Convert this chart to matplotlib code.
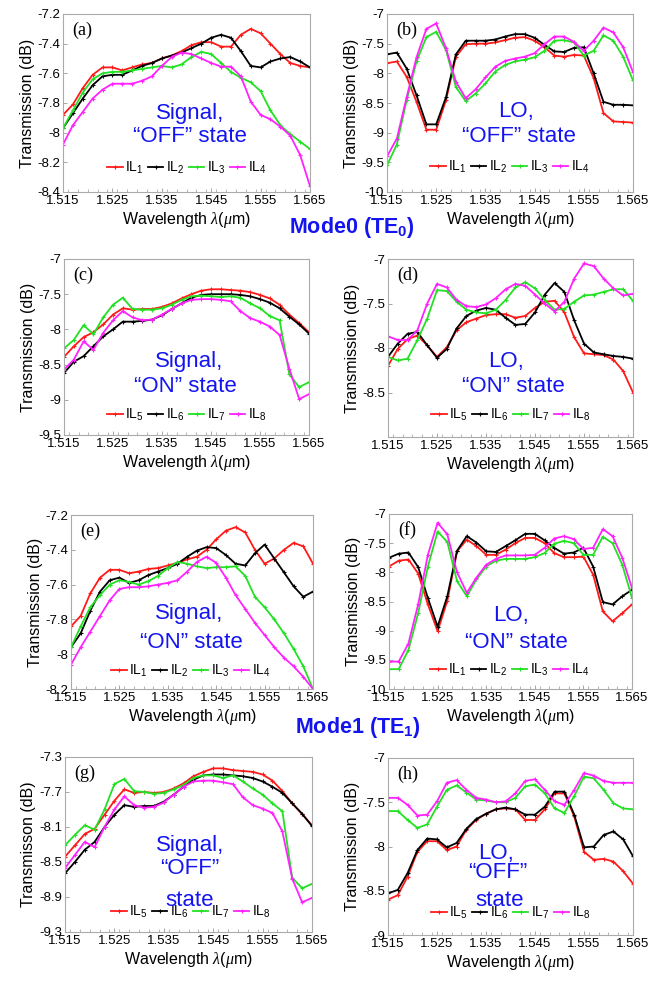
import matplotlib
matplotlib.use("Agg")
import matplotlib.pyplot as plt
from matplotlib.ticker import FixedLocator, FuncFormatter, MultipleLocator

plt.rcParams['font.family'] = ['Liberation Sans', 'DejaVu Sans']
plt.rcParams['mathtext.fontset'] = 'custom'
plt.rcParams['mathtext.rm'] = 'Liberation Sans'
plt.rcParams['mathtext.it'] = 'Liberation Serif:italic'
plt.rcParams['mathtext.bf'] = 'Liberation Sans:bold'

# ---------------- data ----------------
wavelength = [1.515, 1.517, 1.519, 1.521, 1.523, 1.525, 1.527, 1.529, 1.531, 1.533,
              1.535, 1.537, 1.539, 1.541, 1.543, 1.545, 1.547, 1.549, 1.551, 1.553,
              1.555, 1.557, 1.559, 1.561, 1.563, 1.565]

# (a) Mode0, Signal, OFF
a_IL1 = [-7.88, -7.81, -7.70, -7.61, -7.56, -7.56, -7.58, -7.56, -7.54, -7.53, -7.50, -7.48, -7.45,
         -7.41, -7.39, -7.39, -7.42, -7.42, -7.34, -7.30, -7.33, -7.40, -7.47, -7.53, -7.55, -7.56]
a_IL2 = [-7.97, -7.87, -7.77, -7.68, -7.62, -7.61, -7.61, -7.58, -7.55, -7.53, -7.50, -7.48, -7.46,
         -7.43, -7.40, -7.36, -7.34, -7.36, -7.45, -7.55, -7.56, -7.52, -7.50, -7.49, -7.52, -7.56]
a_IL3 = [-7.97, -7.85, -7.73, -7.64, -7.60, -7.59, -7.59, -7.58, -7.57, -7.56, -7.55, -7.56, -7.54,
         -7.49, -7.455, -7.47, -7.53, -7.59, -7.63, -7.66, -7.72, -7.85, -7.95, -8.01, -8.06, -8.11]
a_IL4 = [-8.08, -7.95, -7.86, -7.77, -7.71, -7.67, -7.67, -7.67, -7.65, -7.62, -7.55, -7.49, -7.46,
         -7.47, -7.50, -7.53, -7.555, -7.555, -7.62, -7.79, -7.88, -7.91, -7.96, -8.02, -8.15, -8.36]

# (b) Mode0, LO, OFF
b_IL1 = [-7.83, -7.80, -8.06, -8.48, -8.95, -8.95, -8.45, -7.72, -7.51, -7.50, -7.50, -7.48, -7.44,
         -7.40, -7.39, -7.45, -7.56, -7.70, -7.72, -7.69, -7.70, -8.08, -8.67, -8.81, -8.82, -8.83]
b_IL2 = [-7.68, -7.65, -7.92, -8.37, -8.86, -8.86, -8.40, -7.68, -7.45, -7.45, -7.45, -7.43, -7.38,
         -7.34, -7.34, -7.40, -7.52, -7.63, -7.64, -7.57, -7.56, -8.00, -8.48, -8.53, -8.53, -8.54]
b_IL3 = [-9.55, -9.20, -8.45, -7.80, -7.39, -7.30, -7.61, -8.23, -8.47, -8.34, -8.17, -7.97, -7.86,
         -7.80, -7.77, -7.73, -7.62, -7.45, -7.44, -7.48, -7.70, -7.62, -7.36, -7.45, -7.72, -8.12]
b_IL4 = [-9.40, -9.10, -8.40, -7.73, -7.25, -7.16, -7.58, -8.14, -8.42, -8.27, -8.07, -7.89, -7.79,
         -7.75, -7.72, -7.66, -7.51, -7.38, -7.38, -7.47, -7.62, -7.45, -7.23, -7.31, -7.56, -7.98]

# (c) Mode0, Signal, ON
c_IL5 = [-8.39, -8.24, -8.11, -8.04, -7.93, -7.79, -7.70, -7.72, -7.71, -7.71, -7.68, -7.63, -7.56,
         -7.50, -7.45, -7.43, -7.43, -7.44, -7.45, -7.47, -7.51, -7.56, -7.65, -7.79, -7.91, -8.04]
c_IL6 = [-8.62, -8.46, -8.38, -8.24, -8.10, -8.00, -7.89, -7.89, -7.88, -7.86, -7.80, -7.71, -7.63,
         -7.55, -7.51, -7.50, -7.50, -7.50, -7.51, -7.53, -7.57, -7.62, -7.70, -7.82, -7.93, -8.06]
c_IL7 = [-8.27, -8.15, -7.94, -8.07, -7.83, -7.65, -7.55, -7.71, -7.72, -7.72, -7.70, -7.65, -7.58,
         -7.53, -7.52, -7.53, -7.54, -7.53, -7.55, -7.63, -7.70, -7.81, -7.87, -8.64, -8.82, -8.75]
c_IL8 = [-8.57, -8.43, -8.17, -8.29, -8.05, -7.87, -7.74, -7.83, -7.87, -7.86, -7.79, -7.71, -7.63,
         -7.58, -7.57, -7.57, -7.58, -7.60, -7.74, -7.84, -7.89, -7.96, -8.08, -8.56, -8.99, -8.92]

# (d) Mode0, LO, ON
d_IL5 = [-8.20, -8.01, -7.90, -7.86, -7.97, -8.10, -7.99, -7.80, -7.71, -7.67, -7.63, -7.62, -7.62,
         -7.66, -7.64, -7.55, -7.48, -7.47, -7.60, -7.88, -8.06, -8.07, -8.08, -8.13, -8.26, -8.50]
d_IL6 = [-8.10, -7.95, -7.84, -7.82, -7.97, -8.11, -8.01, -7.78, -7.64, -7.58, -7.55, -7.57, -7.66,
         -7.74, -7.73, -7.60, -7.40, -7.27, -7.37, -7.69, -7.95, -8.05, -8.07, -8.09, -8.10, -8.12]
d_IL7 = [-8.10, -8.14, -8.12, -7.91, -7.67, -7.35, -7.36, -7.48, -7.57, -7.60, -7.61, -7.57, -7.46,
         -7.32, -7.26, -7.33, -7.46, -7.57, -7.56, -7.48, -7.41, -7.40, -7.37, -7.34, -7.34, -7.47]
d_IL8 = [-7.87, -7.91, -7.91, -7.80, -7.50, -7.28, -7.32, -7.46, -7.53, -7.54, -7.51, -7.44, -7.34,
         -7.28, -7.30, -7.40, -7.50, -7.59, -7.48, -7.22, -7.05, -7.08, -7.22, -7.33, -7.41, -7.39]

# (e) Mode1, Signal, ON
e_IL1 = [-7.84, -7.78, -7.65, -7.56, -7.515, -7.515, -7.535, -7.525, -7.51, -7.505, -7.49, -7.475, -7.455,
         -7.44, -7.40, -7.34, -7.29, -7.27, -7.30, -7.40, -7.48, -7.45, -7.40, -7.36, -7.38, -7.48]
e_IL2 = [-7.96, -7.88, -7.75, -7.64, -7.575, -7.56, -7.59, -7.575, -7.545, -7.525, -7.505, -7.48, -7.44,
         -7.405, -7.385, -7.39, -7.43, -7.48, -7.49, -7.42, -7.37, -7.45, -7.53, -7.61, -7.67, -7.64]
e_IL3 = [-7.96, -7.84, -7.73, -7.66, -7.60, -7.575, -7.585, -7.60, -7.58, -7.55, -7.505, -7.47, -7.48,
         -7.495, -7.505, -7.50, -7.50, -7.495, -7.55, -7.67, -7.73, -7.80, -7.88, -7.97, -8.07, -8.20]
e_IL4 = [-8.06, -7.96, -7.87, -7.78, -7.69, -7.625, -7.615, -7.615, -7.61, -7.60, -7.59, -7.575, -7.525,
         -7.47, -7.44, -7.475, -7.56, -7.66, -7.74, -7.82, -7.89, -7.96, -8.02, -8.07, -8.13, -8.20]

# (f) Mode1, LO, ON
f_IL1 = [-7.90, -7.80, -7.78, -8.02, -8.55, -9.01, -8.49, -7.64, -7.44, -7.55, -7.70, -7.70, -7.61,
         -7.50, -7.41, -7.41, -7.50, -7.67, -7.74, -7.74, -7.73, -8.04, -8.67, -8.84, -8.70, -8.55]
f_IL2 = [-7.75, -7.68, -7.66, -7.91, -8.44, -8.93, -8.41, -7.63, -7.38, -7.49, -7.64, -7.65, -7.55,
         -7.45, -7.34, -7.34, -7.45, -7.58, -7.68, -7.66, -7.58, -7.90, -8.51, -8.55, -8.41, -8.30]
f_IL3 = [-9.66, -9.66, -9.33, -8.70, -7.90, -7.30, -7.48, -8.15, -8.41, -8.12, -7.90, -7.80, -7.77,
         -7.77, -7.77, -7.74, -7.67, -7.51, -7.46, -7.50, -7.70, -7.70, -7.39, -7.50, -7.87, -8.44]
f_IL4 = [-9.53, -9.53, -9.22, -8.55, -7.70, -7.15, -7.35, -8.00, -8.35, -8.09, -7.87, -7.77, -7.71,
         -7.71, -7.71, -7.70, -7.58, -7.42, -7.38, -7.43, -7.60, -7.58, -7.26, -7.38, -7.75, -8.27]

# (g) Mode1, Signal, OFF
g_IL5 = [-8.44, -8.31, -8.18, -8.12, -7.96, -7.80, -7.67, -7.71, -7.70, -7.71, -7.70, -7.66, -7.60,
         -7.52, -7.47, -7.43, -7.43, -7.45, -7.46, -7.47, -7.50, -7.57, -7.69, -7.83, -7.95, -8.08]
g_IL6 = [-8.63, -8.50, -8.36, -8.27, -8.10, -7.96, -7.85, -7.87, -7.86, -7.86, -7.81, -7.73, -7.64,
         -7.56, -7.51, -7.50, -7.50, -7.51, -7.52, -7.54, -7.58, -7.64, -7.71, -7.83, -7.95, -8.09]
g_IL7 = [-8.31, -8.19, -8.08, -8.13, -7.90, -7.61, -7.55, -7.69, -7.70, -7.72, -7.71, -7.67, -7.62,
         -7.54, -7.51, -7.51, -7.54, -7.51, -7.58, -7.66, -7.73, -7.83, -7.92, -8.68, -8.80, -8.75]
g_IL8 = [-8.57, -8.42, -8.27, -8.33, -8.10, -7.90, -7.75, -7.85, -7.88, -7.87, -7.82, -7.73, -7.64,
         -7.58, -7.57, -7.57, -7.59, -7.61, -7.76, -7.85, -7.89, -7.94, -8.15, -8.69, -8.96, -8.91]

# (h) Mode1, LO, OFF
h_IL5 = [-8.60, -8.55, -8.34, -8.06, -7.94, -7.94, -8.04, -8.00, -7.81, -7.70, -7.63, -7.58, -7.57,
         -7.58, -7.70, -7.70, -7.58, -7.40, -7.40, -7.66, -8.06, -8.15, -8.14, -8.17, -8.28, -8.42]
h_IL6 = [-8.53, -8.49, -8.30, -8.04, -7.91, -7.92, -8.01, -7.96, -7.80, -7.69, -7.63, -7.58, -7.56,
         -7.58, -7.64, -7.64, -7.55, -7.38, -7.38, -7.64, -8.01, -8.00, -7.87, -7.83, -7.92, -8.11]
h_IL7 = [-7.60, -7.60, -7.70, -7.79, -7.75, -7.55, -7.36, -7.31, -7.39, -7.47, -7.48, -7.50, -7.50,
         -7.45, -7.32, -7.30, -7.40, -7.57, -7.62, -7.43, -7.21, -7.23, -7.36, -7.51, -7.57, -7.58]
h_IL8 = [-7.45, -7.45, -7.53, -7.65, -7.64, -7.49, -7.28, -7.25, -7.36, -7.45, -7.47, -7.50, -7.49,
         -7.40, -7.26, -7.24, -7.36, -7.49, -7.53, -7.36, -7.17, -7.20, -7.26, -7.28, -7.28, -7.28]

x_ticks = [1.515, 1.525, 1.535, 1.545, 1.555, 1.565]
labels_1to4 = ['IL$_1$', 'IL$_2$', 'IL$_3$', 'IL$_4$']
labels_5to8 = ['IL$_5$', 'IL$_6$', 'IL$_7$', 'IL$_8$']

# ---------------- layout ----------------
W, H = 652, 982
fig = plt.figure(figsize=(W / 100, H / 100), dpi=100)
colors = ['#ff1a1a', '#000000', '#22e022', '#ff22ff']
blue = '#1414f0'


def px_rect(l, t, r, b):
    return [l / W, 1 - b / H, (r - l) / W, (b - t) / H]


panels = [
    ('(a)', (63, 14, 310, 192), [a_IL1, a_IL2, a_IL3, a_IL4], labels_1to4, (-8.4, -7.2),
     [-8.4, -8.2, -8.0, -7.8, -7.6, -7.4, -7.2], 'Transmission (dB)', (187, 168),
     [('Signal,', 190, 114), ('\u201cOFF\u201d state', 190, 137)]),
    ('(b)', (387, 14, 633, 192), [b_IL1, b_IL2, b_IL3, b_IL4], labels_1to4, (-10, -7),
     [-10, -9.5, -9, -8.5, -8, -7.5, -7], 'Transmission (dB)', (510, 167),
     [('LO,', 516, 111), ('\u201cOFF\u201d state', 519, 137)]),
    ('(c)', (64, 259, 309, 435), [c_IL5, c_IL6, c_IL7, c_IL8], labels_5to8, (-9.5, -7),
     [-9.5, -9, -8.5, -8, -7.5, -7], 'Transmission (dB)', (187, 415),
     [('Signal,', 189, 361), ('\u201cON\u201d state', 185, 387)]),
    ('(d)', (388, 259, 633, 437), [d_IL5, d_IL6, d_IL7, d_IL8], labels_5to8, (-9, -7),
     [-8.5, -8, -7.5, -7], 'Transmission (dB)', (511, 415),
     [('LO,', 506, 362), ('\u201cON\u201d state', 513, 387)]),
    ('(e)', (71, 515, 313, 689), [e_IL1, e_IL2, e_IL3, e_IL4], labels_1to4, (-8.2, -7.2),
     [-8.2, -8.0, -7.8, -7.6, -7.4, -7.2], 'Transmission (dB)', (191, 671),
     [('Signal,', 189, 614), ('\u201cON\u201d state', 191, 643)]),
    ('(f)', (389, 514, 632, 689), [f_IL1, f_IL2, f_IL3, f_IL4], labels_1to4, (-10, -7),
     [-10, -9.5, -9, -8.5, -8, -7.5, -7], 'Transmission (dB)', (510, 670),
     [('LO,', 511, 615), ('\u201cON\u201d state', 516, 643)]),
    ('(g)', (65, 757, 312, 932), [g_IL5, g_IL6, g_IL7, g_IL8], labels_5to8, (-9.3, -7.3),
     [-9.3, -8.9, -8.5, -8.1, -7.7, -7.3], 'Transmisson (dB)', (191, 912),
     [('Signal,', 190, 845), ('\u201cOFF\u201d', 190, 868), ('state', 190, 900)]),
    ('(h)', (388, 758, 633, 935), [h_IL5, h_IL6, h_IL7, h_IL8], labels_5to8, (-9, -7),
     [-9, -8.5, -8, -7.5, -7], 'Transmission (dB)', (511, 913),
     [('LO,', 496, 853), ('\u201cOFF\u201d', 498, 873), ('state', 500, 900)]),
]

fmt = FuncFormatter(lambda v, p: ('%g' % round(v, 3)))

for tag, (l, t, r, b), series, labs, ylim, yticks, ylab, (lx, ly), texts in panels:
    ax = fig.add_axes(px_rect(l, t, r, b))
    for ys, c, lab in zip(series, colors, labs):
        ax.plot(wavelength, ys, color=c, lw=1.3, marker='+', ms=3.5, mew=0.8, label=lab)
    ax.set_xlim(1.515, 1.565)
    ax.set_ylim(*ylim)
    ax.xaxis.set_major_locator(FixedLocator(x_ticks))
    ax.xaxis.set_minor_locator(MultipleLocator(0.002))
    ax.yaxis.set_major_locator(FixedLocator(yticks))
    ax.xaxis.set_major_formatter(fmt)
    ax.yaxis.set_major_formatter(fmt)
    ax.tick_params(axis='both', which='both', direction='in', color='#999999',
                   labelsize=9.5, pad=2)
    ax.tick_params(which='major', length=3, width=0.6)
    ax.tick_params(which='minor', length=2, width=0.5)
    for s in ax.spines.values():
        s.set_color('#aaaaaa')
        s.set_linewidth(0.8)
    ax.set_ylabel(ylab, fontsize=11.5, labelpad=2)
    ax.set_xlabel('Wavelength $\\lambda$($\\mu$m)', fontsize=11.5, labelpad=2.5)
    ax.text(9 / (r - l), 1 - 16 / (b - t), tag, transform=ax.transAxes,
            fontsize=13, family='Liberation Serif', va='center', ha='left')
    ax.legend(loc='center', bbox_to_anchor=((lx - l) / (r - l), 1 - (ly - t) / (b - t)),
              ncol=4, frameon=False, fontsize=10, handlelength=1.1,
              handletextpad=0.2, columnspacing=0.3, borderpad=0, borderaxespad=0)
    for txt, tx, ty in texts:
        fig.text(tx / W, 1 - ty / H, txt, color=blue, fontsize=16, ha='center', va='center')

fig.text(352 / W, 1 - 227 / H, 'Mode0 (TE$_\\mathbf{0}$)', color=blue, fontsize=15.5,
         fontweight='bold', ha='center', va='center')
fig.text(358 / W, 1 - 727 / H, 'Mode1 (TE$_\\mathbf{1}$)', color=blue, fontsize=15.5,
         fontweight='bold', ha='center', va='center')

fig.savefig('out.png', dpi=100, facecolor='white')
